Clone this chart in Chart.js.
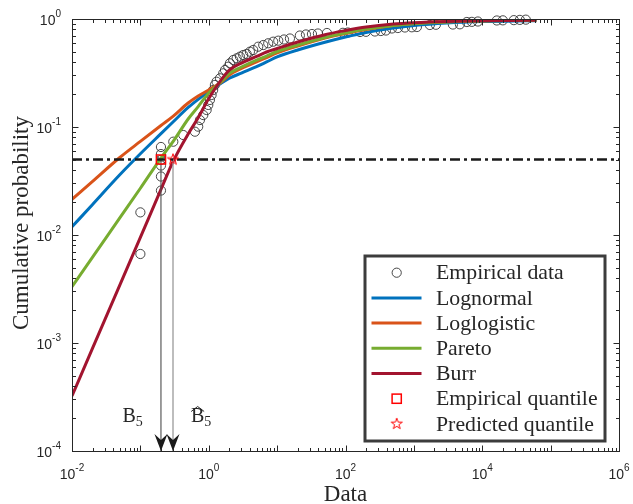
<!DOCTYPE html>
<html>
<head>
<meta charset="utf-8">
<script src="https://cdn.jsdelivr.net/npm/chart.js@4"></script>
<style>
  html, body { margin:0; padding:0; background:#fff; }
  #wrap { width:633px; height:504px; }
</style>
</head>
<body>
<div id="wrap"><canvas id="c" width="633" height="504"></canvas></div>
<script>
// ── data ──
const fitX = [0.01, 0.02, 0.05, 0.1, 0.2, 0.3, 0.5, 0.7, 1, 1.5, 2, 3, 5, 7, 10, 20, 50, 100, 200, 500, 1000, 3000, 10000, 30000, 62000];
const lognormalP   = [0.0119, 0.0192, 0.0361, 0.0565, 0.0867, 0.1112, 0.1516, 0.1804, 0.2133, 0.2529, 0.2825, 0.316, 0.3617, 0.400, 0.445, 0.5165, 0.6086, 0.681, 0.750, 0.825, 0.870, 0.918, 0.948, 0.958, 0.964];
const loglogisticP = [0.0214, 0.0314, 0.0522, 0.0736, 0.1032, 0.1254, 0.1668, 0.1936, 0.2203, 0.2583, 0.303, 0.348, 0.400, 0.440, 0.485, 0.562, 0.667, 0.734, 0.799, 0.871, 0.908, 0.942, 0.964, 0.975, 0.983];
const paretoP      = [0.00332, 0.00625, 0.0144, 0.0271, 0.0516, 0.0731, 0.1186, 0.1545, 0.2064, 0.261, 0.314, 0.3594, 0.417, 0.454, 0.500, 0.574, 0.674, 0.742, 0.808, 0.871, 0.905, 0.938, 0.958, 0.969, 0.975];
const burrP        = [0.000323, 0.000895, 0.00344, 0.00952, 0.0264, 0.0478, 0.0862, 0.1217, 0.1837, 0.2706, 0.337, 0.391, 0.450, 0.495, 0.533, 0.612, 0.716, 0.782, 0.843, 0.899, 0.924, 0.948, 0.962, 0.969, 0.973];

const empX = [0.1, 0.1, 0.2, 0.2, 0.2, 0.2, 0.2, 0.2, 0.303, 0.424, 0.628, 0.701, 0.743, 0.831, 0.931, 0.984, 1.04, 1.10, 1.16, 1.23, 1.30, 1.46, 1.63, 1.73, 1.93, 2.04, 2.28, 2.56, 2.86, 3.19, 3.58, 4.0, 4.47, 5.29, 6.27, 7.41, 8.77, 10.4, 12.6, 15.4, 21.5, 26.4, 32.3, 39.5, 53.5, 91.6, 108, 163, 199, 269, 329, 390, 477, 584, 739, 935, 1107, 1714, 2099, 3718, 4710, 5958, 7047, 8630, 16330, 20000, 28970, 35480, 43350];
const empP = [0.00667, 0.0162, 0.0258, 0.0348, 0.044, 0.0495, 0.0562, 0.0653, 0.0731, 0.0843, 0.0905, 0.1007, 0.116, 0.129, 0.1437, 0.160, 0.178, 0.198, 0.220, 0.245, 0.2627, 0.2825, 0.314, 0.337, 0.3617, 0.389, 0.417, 0.4325, 0.448, 0.464, 0.474, 0.498, 0.516, 0.554, 0.574, 0.596, 0.6165, 0.630, 0.646, 0.660, 0.703, 0.719, 0.726, 0.734, 0.742, 0.745, 0.750, 0.758, 0.761, 0.766, 0.774, 0.782, 0.817, 0.825, 0.834, 0.838, 0.843, 0.880, 0.884, 0.889, 0.893, 0.938, 0.941, 0.948, 0.969, 0.972, 0.976, 0.981, 0.986];

const levelP = 0.05;               // 5 % level
const levelX = [0.01, 1e6];
const empQuantileX = 0.2;          // B5
const predQuantileX = 0.3;         // B5 hat

const xLabelExp = [-2, 0, 2, 4, 6];
const yLabelExp = [-4, -3, -2, -1, 0];

const C = { blue:'#0072BD', orange:'#D95319', green:'#77AC30', red:'#A2142F', ink:'#262626' };
const SERIF = '"Liberation Serif", "Times New Roman", serif';
const SANS  = '"Liberation Sans", Arial, sans-serif';

const pts = (xs, ys) => xs.map((x, i) => ({ x, y: ys[i] }));

// pentagram marker
const starImg = (() => {
  const c = document.createElement('canvas'); c.width = c.height = 16;
  const g = c.getContext('2d');
  g.beginPath();
  for (let i = 0; i < 10; i++) {
    const r = i % 2 ? 2.3 : 5.8, a = -Math.PI/2 + i*Math.PI/5;
    g.lineTo(8 + r*Math.cos(a), 8 + r*Math.sin(a));
  }
  g.closePath(); g.strokeStyle = '#ff0000'; g.lineWidth = 1; g.stroke();
  return c;
})();

const curve = (label, ys, color) => ({
  label, data: pts(fitX, ys), borderColor: color, borderWidth: 3, pointRadius: 0,
  showLine: true, fill: false, cubicInterpolationMode: 'monotone', order: 2,
});

const datasets = [
  { label:'Empirical quantile', data:[{x:empQuantileX, y:levelP}], pointStyle:'rect', pointRadius:6.5,
    borderColor:'#ff0000', backgroundColor:'rgba(0,0,0,0)', borderWidth:1.5, order:0 },
  { label:'Predicted quantile', data:[{x:predQuantileX, y:levelP}], pointStyle:starImg, pointRadius:6, order:0 },
  { label:'level', data: pts(levelX, [levelP, levelP]), showLine:true, borderColor:'#1a1a1a', borderWidth:2.6,
    borderDash:[10,4,3,4], pointRadius:0, order:1 },
  { label:'arrowB', data:[{x:empQuantileX, y:levelP}, {x:empQuantileX, y:1e-4}], showLine:true,
    borderColor:'#4d4d4d', borderWidth:1.1, pointRadius:0, order:1 },
  { label:'arrowBhat', data:[{x:predQuantileX, y:levelP}, {x:predQuantileX, y:1e-4}], showLine:true,
    borderColor:'#9a9a9a', borderWidth:1.3, pointRadius:0, order:1 },
  curve('Burr', burrP, C.red),
  curve('Pareto', paretoP, C.green),
  curve('Loglogistic', loglogisticP, C.orange),
  curve('Lognormal', lognormalP, C.blue),
  { label:'Empirical data', data: pts(empX, empP), pointStyle:'circle', pointRadius:4.6,
    borderColor:'#333', backgroundColor:'rgba(0,0,0,0)', borderWidth:0.9, clip:false, order:3 },
];

function pow10(ctx, x, y, exp, align) {
  ctx.font = `14px ${SANS}`; const w10 = ctx.measureText('10').width;
  ctx.font = `10px ${SANS}`; const we = ctx.measureText(String(exp)).width;
  const x0 = align === 'right' ? x - w10 - we : x - (w10 + we)/2;
  ctx.textAlign = 'left'; ctx.textBaseline = 'alphabetic';
  ctx.font = `14px ${SANS}`; ctx.fillText('10', x0, y);
  ctx.font = `10px ${SANS}`; ctx.fillText(String(exp), x0 + w10, y - 8);
}

function quantLabel(ctx, left, hat) {
  ctx.textAlign = 'left'; ctx.textBaseline = 'alphabetic';
  ctx.font = `20px ${SERIF}`; const wB = ctx.measureText('B').width;
  ctx.fillText('B', left, 422);
  ctx.font = `14px ${SERIF}`; ctx.fillText('5', left + wB, 426);
  if (hat) {
    const cx = left + wB/2;
    ctx.lineWidth = 1; ctx.beginPath();
    ctx.moveTo(cx - 6.5, 411.5); ctx.lineTo(cx, 406.5); ctx.lineTo(cx + 6.5, 411.5); ctx.stroke();
  }
}

const decoration = {
  id: 'decoration',
  afterDatasetsDraw(chart) {
    const { ctx, chartArea: a, scales: { x, y } } = chart;
    ctx.save();
    // arrow heads
    ctx.fillStyle = '#1a1a1a';
    [empQuantileX, predQuantileX].forEach(v => {
      const px = x.getPixelForValue(v), py = y.getPixelForValue(1e-4);
      ctx.beginPath();
      ctx.moveTo(px, py); ctx.lineTo(px - 6.5, py - 17); ctx.lineTo(px, py - 11); ctx.lineTo(px + 6.5, py - 17);
      ctx.closePath(); ctx.fill();
    });
    // box + ticks
    ctx.strokeStyle = C.ink; ctx.lineWidth = 1;
    const L = Math.round(a.left) + 0.5, R = Math.round(a.right) + 0.5, T = Math.round(a.top) + 0.5, B = Math.round(a.bottom) + 0.5;
    ctx.strokeRect(L, T, R - L, B - T);
    ctx.beginPath();
    for (let d = -2; d <= 6; d++) for (let m = 1; m <= 9; m++) {
      const v = m * Math.pow(10, d); if (v > 1e6) break;
      const px = Math.round(x.getPixelForValue(v)) + 0.5, len = m === 1 ? 6 : 3.5;
      ctx.moveTo(px, B); ctx.lineTo(px, B - len); ctx.moveTo(px, T); ctx.lineTo(px, T + len);
    }
    for (let d = -4; d <= 0; d++) for (let m = 1; m <= 9; m++) {
      const v = m * Math.pow(10, d); if (v > 1) break;
      const py = Math.round(y.getPixelForValue(v)) + 0.5, len = m === 1 ? 6 : 3.5;
      ctx.moveTo(L, py); ctx.lineTo(L + len, py); ctx.moveTo(R, py); ctx.lineTo(R - len, py);
    }
    ctx.stroke();
    // tick labels
    ctx.fillStyle = C.ink;
    xLabelExp.forEach(e => pow10(ctx, x.getPixelForValue(Math.pow(10, e)), 479, e, 'center'));
    yLabelExp.forEach(e => pow10(ctx, 61, y.getPixelForValue(Math.pow(10, e)) + 6, e, 'right'));
    // axis titles
    ctx.font = `23px ${SERIF}`; ctx.textAlign = 'center'; ctx.textBaseline = 'middle';
    ctx.fillText('Data', (a.left + a.right)/2, 495);
    ctx.save(); ctx.translate(22, 223); ctx.rotate(-Math.PI/2);
    ctx.fillText('Cumulative probability', 0, 0); ctx.restore();
    // B5 labels
    quantLabel(ctx, 122.5, false);
    quantLabel(ctx, 191, true);
    ctx.restore();
  },
  afterDraw(chart) {
    const { ctx } = chart;
    const bx = 365, by = 256, bw = 240, bh = 185;
    ctx.save();
    ctx.fillStyle = '#fff'; ctx.fillRect(bx, by, bw, bh);
    ctx.strokeStyle = '#3c3c3c'; ctx.lineWidth = 3; ctx.strokeRect(bx, by, bw, bh);
    const rows = ['Empirical data', 'Lognormal', 'Loglogistic', 'Pareto', 'Burr', 'Empirical quantile', 'Predicted quantile'];
    const lineCol = { Lognormal: C.blue, Loglogistic: C.orange, Pareto: C.green, Burr: C.red };
    rows.forEach((name, i) => {
      const cy = 272.7 + i * 25.2, mx = 396.7;
      if (lineCol[name]) {
        ctx.strokeStyle = lineCol[name]; ctx.lineWidth = 3;
        ctx.beginPath(); ctx.moveTo(371.5, cy); ctx.lineTo(421.5, cy); ctx.stroke();
      } else if (name === 'Empirical data') {
        ctx.strokeStyle = '#333'; ctx.lineWidth = 0.9;
        ctx.beginPath(); ctx.arc(mx, cy, 4.6, 0, Math.PI*2); ctx.stroke();
      } else if (name === 'Empirical quantile') {
        ctx.strokeStyle = '#ff0000'; ctx.lineWidth = 1.5; ctx.strokeRect(mx - 4.6, cy - 4.6, 9.2, 9.2);
      } else {
        ctx.drawImage(starImg, mx - 8, cy - 8);
      }
      ctx.fillStyle = C.ink; ctx.font = `21.8px ${SERIF}`; ctx.textAlign = 'left'; ctx.textBaseline = 'middle';
      ctx.fillText(name, 436, cy + 1);
    });
    ctx.restore();
  }
};

new Chart(document.getElementById('c'), {
  type: 'scatter',
  data: { datasets },
  options: {
    responsive: false, animation: false, events: [],
    layout: { padding: { left: 72, top: 19, right: 14, bottom: 53 } },
    plugins: { legend: { display: false }, tooltip: { enabled: false } },
    scales: {
      x: { type: 'logarithmic', min: 1e-2, max: 1e6, display: false },
      y: { type: 'logarithmic', min: 1e-4, max: 1, display: false },
    },
  },
  plugins: [decoration],
});
</script>
</body>
</html>
